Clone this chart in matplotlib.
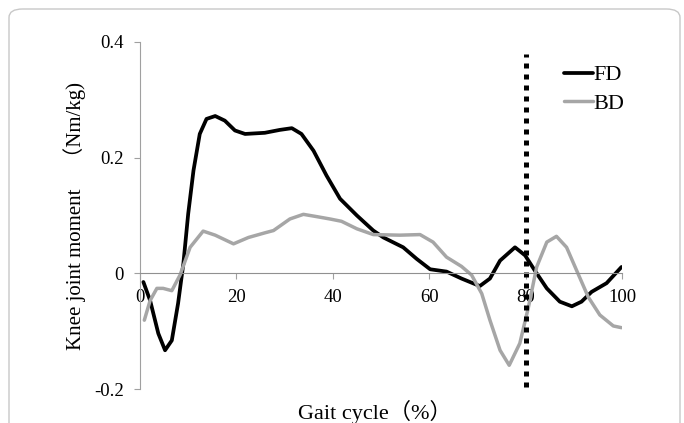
import matplotlib
matplotlib.use('Agg')
import matplotlib.pyplot as plt
from matplotlib.patches import FancyBboxPatch

# Fuentes: serif latina + CJK para los paréntesis de ancho completo
plt.rcParams['font.family'] = ['Liberation Serif', 'Noto Sans CJK JP']

# Datos (% del ciclo de marcha, Nm/kg)
fd_x = [0.7, 2.1, 3.8, 5.2, 6.6, 7.9, 9.0, 10.0, 11.1, 12.4, 13.8, 15.6, 17.6,
        19.7, 21.8, 25.9, 29.0, 31.5, 33.5, 36.0, 38.7, 41.5, 45.0, 48.4, 50.5,
        54.6, 57.4, 60.2, 63.6, 66.7, 70.5, 72.6, 74.7, 77.8, 79.9, 81.9, 84.4,
        87.1, 89.6, 91.6, 93.7, 96.8, 99.9]
fd_y = [-0.015, -0.047, -0.104, -0.133, -0.116, -0.052, 0.017, 0.103, 0.178,
        0.241, 0.267, 0.272, 0.264, 0.247, 0.241, 0.243, 0.248, 0.251, 0.241,
        0.212, 0.169, 0.129, 0.100, 0.074, 0.062, 0.045, 0.025, 0.007, 0.003,
        -0.009, -0.022, -0.009, 0.022, 0.045, 0.031, 0.005, -0.026, -0.049,
        -0.057, -0.049, -0.032, -0.017, 0.011]

bd_x = [0.9, 2.1, 3.5, 4.8, 6.6, 8.3, 10.4, 13.1, 15.6, 19.4, 22.5, 25.9, 27.7,
        31.1, 33.9, 36.7, 39.4, 41.8, 45.0, 48.4, 53.9, 58.1, 60.8, 63.6, 66.7,
        68.8, 70.9, 72.6, 74.7, 76.6, 78.8, 80.6, 82.3, 84.4, 86.4, 88.5, 90.9,
        93.0, 95.4, 98.2, 99.9]
bd_y = [-0.081, -0.047, -0.026, -0.026, -0.030, -0.003, 0.045, 0.073, 0.066,
        0.051, 0.062, 0.070, 0.074, 0.094, 0.102, 0.098, 0.094, 0.090, 0.077,
        0.067, 0.066, 0.067, 0.054, 0.028, 0.012, -0.003, -0.035, -0.081,
        -0.133, -0.159, -0.121, -0.058, 0.011, 0.054, 0.064, 0.045, -0.001,
        -0.041, -0.072, -0.091, -0.094]

toe_off = 80
x_ticks = [0, 20, 40, 60, 80, 100]
y_ticks = [-0.2, 0, 0.2, 0.4]
y_tick_labels = ['-0.2', '0', '0.2', '0.4']

fig = plt.figure(figsize=(6.84, 4.23), dpi=100)
ax = fig.add_axes([140 / 684, 34 / 423, 482 / 684, 347 / 423])

# Marco redondeado alrededor de la figura
frame = FancyBboxPatch((9 / 684, -0.05), 671 / 684, 1.05 - 9 / 423,
                       boxstyle='round,pad=0,rounding_size=0.02',
                       transform=fig.transFigure, fill=False,
                       edgecolor='#c8c8c8', linewidth=1.0)
fig.patches.append(frame)

ax.plot(fd_x, fd_y, color='black', linewidth=2.7, label='FD',
        solid_joinstyle='round', solid_capstyle='round')
ax.plot(bd_x, bd_y, color='#a6a6a6', linewidth=2.5, label='BD',
        solid_joinstyle='round', solid_capstyle='round')
ax.plot([toe_off, toe_off], [-0.196, 0.38], color='black', linewidth=3.6,
        linestyle=(0, (1, 1.2)), dash_capstyle='butt')

ax.set_xlim(0, 100)
ax.set_ylim(-0.2, 0.4)

ax.spines['top'].set_visible(False)
ax.spines['right'].set_visible(False)
ax.spines['bottom'].set_position(('data', 0))
ax.spines['bottom'].set_color('#909090')
ax.spines['left'].set_color('#a0a0a0')

ax.set_xticks(x_ticks)
ax.set_yticks(y_ticks)
ax.set_yticklabels(y_tick_labels)
ax.tick_params(axis='both', direction='out', length=4.5, width=0.8,
               color='#a0a0a0', labelsize=13.5, pad=7)

ax.set_xlabel('Gait cycle（%）', fontsize=16)
ax.xaxis.set_label_coords(0.488, -0.032)
ax.set_ylabel('Knee joint moment　（Nm/kg)', fontsize=15)
ax.yaxis.set_label_coords(-0.112, 0.50)

ax.legend(loc='upper left', bbox_to_anchor=(0.862, 0.96), frameon=False,
          fontsize=16, handlelength=1.3, handletextpad=0.0,
          labelspacing=0.35, borderaxespad=0)

fig.savefig('out.png', dpi=100)
